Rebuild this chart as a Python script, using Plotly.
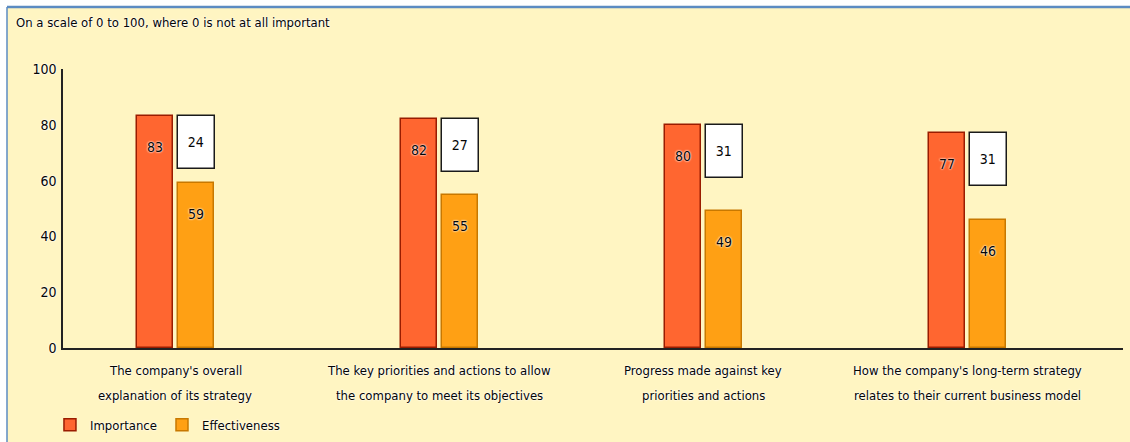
import plotly.graph_objects as go

# Survey results: importance vs. effectiveness of strategy reporting topics
categories = [
    ["The company's overall", "explanation of its strategy"],
    ["The key priorities and actions to allow", "the company to meet its objectives"],
    ["Progress made against key", "priorities and actions"],
    ["How the company's long-term strategy", "relates to their current business model"],
]
importance = [83, 82, 80, 77]
effectiveness = [59, 55, 49, 46]
gap = [i - e for i, e in zip(importance, effectiveness)]

y_ticks = [0, 20, 40, 60, 80, 100]

# Style settings
FONT = "DejaVu Sans Condensed, Liberation Sans, Arial"
TEXT = "#050505"
BG = "#FFF5C2"
IMP_FILL, IMP_LINE = "#FF6630", "#9A1C00"
EFF_FILL, EFF_LINE = "#FFA014", "#C87800"
BAR_W = 0.136
IMP_OFF = -0.146
EFF_OFF = 0.0095
BOX_DEPTH = 19          # height of the gap box, in axis units
LABEL_SHIFT = -31       # pixels from bar top to its value label
HALO = "0 0 2px #ffffff, 0 0 2px #ffffff"
LABEL_LINES_Y = [-0.079, -0.172]   # paper y of the two category label lines

x = list(range(len(categories)))

fig = go.Figure()

fig.add_trace(go.Bar(
    name="Importance", x=x, y=importance, width=BAR_W, offset=IMP_OFF,
    marker=dict(color=IMP_FILL, line=dict(color=IMP_LINE, width=1.5)),
    hoverinfo="skip",
))
fig.add_trace(go.Bar(
    name="Effectiveness", x=x, y=effectiveness, width=BAR_W, offset=EFF_OFF,
    marker=dict(color=EFF_FILL, line=dict(color=EFF_LINE, width=1.5)),
    hoverinfo="skip",
))
# Gap box hanging from the top of each importance bar
fig.add_trace(go.Bar(
    x=x, y=[BOX_DEPTH] * len(x), base=[v - BOX_DEPTH for v in importance],
    width=BAR_W + 0.004, offset=EFF_OFF, showlegend=False,
    marker=dict(color="#FFFFFF", line=dict(color="#1A1A1A", width=1.5)),
    text=[str(g) for g in gap], textposition="inside", insidetextanchor="middle",
    textangle=0, constraintext="none",
    textfont=dict(family=FONT, size=14, color=TEXT),
    hoverinfo="skip",
))

annotations = []
for i in x:
    annotations.append(dict(
        x=i + IMP_OFF + BAR_W / 2, y=importance[i], xref="x", yref="y",
        text=str(importance[i]), showarrow=False, yshift=LABEL_SHIFT,
        font=dict(family=FONT, size=14, color=TEXT, shadow=HALO),
    ))
    annotations.append(dict(
        x=i + EFF_OFF + BAR_W / 2, y=effectiveness[i], xref="x", yref="y",
        text=str(effectiveness[i]), showarrow=False, yshift=LABEL_SHIFT,
        font=dict(family=FONT, size=14, color=TEXT, shadow=HALO),
    ))
    # Category label, one annotation per line for wider line spacing
    for line, ly in zip(categories[i], LABEL_LINES_Y):
        annotations.append(dict(
            x=i, y=ly, xref="x", yref="paper", yanchor="middle",
            text=line, showarrow=False,
            font=dict(family=FONT, size=13, color=TEXT, shadow=HALO),
        ))

annotations.append(dict(
    x=-0.0462, y=1.168, xref="paper", yref="paper", xanchor="left", yanchor="middle",
    text="On a scale of 0 to 100, where 0 is not at all important", showarrow=False,
    font=dict(family=FONT, size=13, color=TEXT, shadow=HALO),
))

# Frame: white outer strip with a blue rule along the top and left edges
shapes = [
    dict(type="rect", xref="paper", yref="paper", x0=-0.06, x1=-56 / 1060,
         y0=-0.4, y1=1.3, fillcolor="#FFFFFF", line=dict(width=0), layer="below"),
    dict(type="rect", xref="paper", yref="paper", x0=-0.06, x1=1.01,
         y0=(348 - 6) / 279, y1=1.3, fillcolor="#FFFFFF", line=dict(width=0), layer="below"),
    dict(type="line", xref="paper", yref="paper", x0=-56 / 1060, x1=1.01,
         y0=(348 - 7) / 279, y1=(348 - 7) / 279, line=dict(color="#5B8BC2", width=2.5)),
    dict(type="line", xref="paper", yref="paper", x0=-56 / 1060, x1=-56 / 1060,
         y0=-0.4, y1=(348 - 7) / 279, line=dict(color="#5B8BC2", width=1.5)),
]

fig.update_layout(
    width=1130, height=442,
    margin=dict(l=63, r=7, t=69, b=94, autoexpand=False),
    paper_bgcolor=BG, plot_bgcolor=BG,
    barmode="overlay", bargap=0,
    font=dict(family=FONT, size=13, color=TEXT),
    showlegend=True,
    legend=dict(
        orientation="h", x=-0.0123, y=-0.275, xanchor="left", yanchor="middle",
        bgcolor="rgba(0,0,0,0)", font=dict(family=FONT, size=13, color=TEXT, shadow=HALO),
        traceorder="normal",
    ),
    annotations=annotations,
    shapes=shapes,
)

fig.update_xaxes(
    range=[-0.426, 3.589], tickvals=x, showticklabels=False,
    showline=True, linecolor="#222222", linewidth=2,
    ticks="", showgrid=False, zeroline=False,
)
fig.update_yaxes(
    range=[0, 100], tickvals=y_ticks,
    showline=True, linecolor="#222222", linewidth=1.5,
    ticks="", ticklabelstandoff=2, showgrid=False, zeroline=False,
    tickfont=dict(family=FONT, size=14, color=TEXT, shadow=HALO),
)

fig.write_html("out.html")
